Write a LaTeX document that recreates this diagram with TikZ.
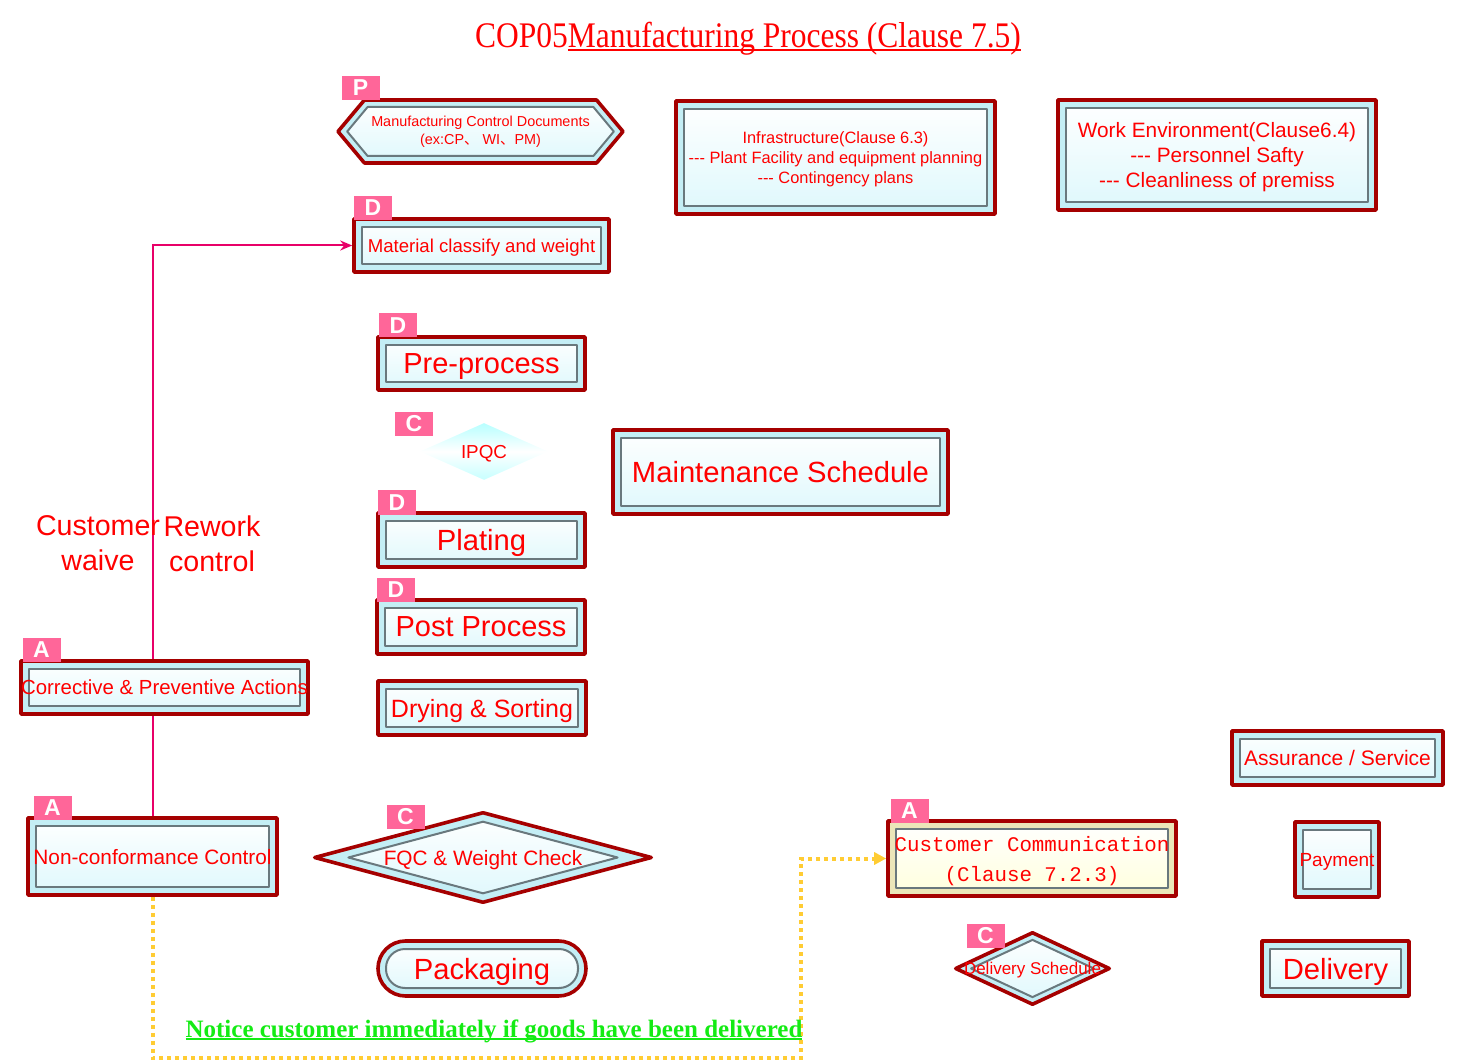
\documentclass[tikz,border=0pt]{standalone}
\usepackage{fontspec}
\setmainfont{Liberation Sans}
\newfontfamily\ttlfont{Liberation Serif}
\newfontfamily\ccfont{Liberation Mono}
\newfontfamily\cjkfont{Noto Sans CJK SC}
\usepackage{graphicx}
\usetikzlibrary{shapes.geometric,shapes.symbols,shapes.misc,arrows.meta,calc,backgrounds}
\definecolor{boxred}{RGB}{165,0,0}
\definecolor{txtred}{RGB}{255,0,0}
\definecolor{bandcyan}{RGB}{196,238,245}
\definecolor{innercyan}{RGB}{222,248,252}
\definecolor{rimgray}{RGB}{105,120,125}
\definecolor{tagpink}{RGB}{255,102,153}
\definecolor{linkpink}{RGB}{232,0,104}
\definecolor{dotgold}{RGB}{255,204,51}
\definecolor{noticegreen}{RGB}{20,235,20}
\definecolor{bandbeige}{RGB}{235,230,185}
\definecolor{innerbeige}{RGB}{255,255,220}
\newcommand\ulbox[2]{\leavevmode\setbox0\hbox{#2}\rlap{\rule[-#1]{\wd0}{0.8pt}}\box0}
\newcommand\dashes{-{}-{}-}
\tikzset{
	procbox/.style={draw=boxred, line width=1.8pt, fill=bandcyan, inner sep=0pt, text=txtred, text depth=0pt,
		path picture={\shadedraw[top color=white, bottom color=#1, draw=rimgray, line width=1pt]
			([shift={(4pt,-4pt)}]path picture bounding box.north west) rectangle
			([shift={(-4pt,4pt)}]path picture bounding box.south east);}},
	procbox/.default=innercyan,
	decision/.style={diamond, draw=boxred, line width=1.8pt, fill=bandcyan, inner sep=0pt, text=txtred, text depth=0pt,
		path picture={\shadedraw[top color=white, bottom color=innercyan, draw=rimgray, line width=1pt]
			($(path picture bounding box.center)!0.8!(path picture bounding box.north)$) --
			($(path picture bounding box.center)!0.8!(path picture bounding box.east)$) --
			($(path picture bounding box.center)!0.8!(path picture bounding box.south)$) --
			($(path picture bounding box.center)!0.8!(path picture bounding box.west)$) -- cycle;}},
	docshape/.style={signal, signal to=west and east, signal pointer angle=100, draw=boxred, line width=1.8pt,
		fill=bandcyan, inner sep=0pt, text=txtred,
		path picture={\shadedraw[top color=white, bottom color=innercyan, draw=rimgray, line width=1pt]
			([xshift=4.6pt]path picture bounding box.west) --
			([shift={(14.8pt,-3.5pt)}]path picture bounding box.north west) --
			([shift={(-14.8pt,-3.5pt)}]path picture bounding box.north east) --
			([xshift=-4.6pt]path picture bounding box.east) --
			([shift={(-14.8pt,3.5pt)}]path picture bounding box.south east) --
			([shift={(14.8pt,3.5pt)}]path picture bounding box.south west) -- cycle;}},
	tag/.style={fill=tagpink, text=white, font=\bfseries\fontsize{11.5}{11.5}\selectfont,
		minimum width=19pt, minimum height=12pt, inner sep=0pt},
	fs/.style={font=\fontsize{#1}{#1}\selectfont}
}
\pgfdeclarelayer{back}
\pgfsetlayers{back,main}
\begin{document}
\begin{tikzpicture}[x=0.5pt, y=-0.5pt, line join=round]
	\useasboundingbox (0,0) rectangle (1458,1064);
	% title
	\node[text=txtred] (title) at (748,39) {\ttlfont\fontsize{18}{18}\selectfont\scalebox{0.875}[1]{COP05\ulbox{1.6pt}{Manufacturing Process (Clause 7.5)}}};
	% upper row
	\node[docshape, minimum width=142.5pt, minimum height=31.5pt, font=\fontsize{7.2}{9}\selectfont] (mcd) at (480.5,131.5)
		{\makebox[0pt]{\begin{tabular}{@{}c@{}}Manufacturing Control Documents\\(ex:CP{\cjkfont 、} WI{\cjkfont 、}PM)\end{tabular}}};
	\node[procbox, minimum width=159.5pt, minimum height=56.5pt, align=center, font=\fontsize{8.2}{10}\selectfont] (infra) at (835.5,157.5)
		{Infrastructure(Clause 6.3)\\\dashes{} Plant Facility and equipment planning\\\dashes{} Contingency plans};
	\node[procbox, minimum width=159pt, minimum height=55pt, align=center, font=\fontsize{10.4}{12.5}\selectfont] (workenv) at (1217,155)
		{Work Environment(Clause6.4)\\\dashes{} Personnel Safty\\\dashes{} Cleanliness of premiss};
	% main flow
	\node[procbox, minimum width=127.5pt, minimum height=26.5pt, fs=9.3] (material) at (481.5,245.5) {Material classify and weight};
	\node[procbox, minimum width=103.5pt, minimum height=26.5pt, fs=14.5] (pre) at (481.5,363.5) {Pre-process};
	\node[diamond, minimum width=64pt, minimum height=28.5pt, inner sep=0pt, text=txtred, text depth=0pt, fs=9.4,
		top color=cyan!28, bottom color=cyan!22, middle color=white] (ipqc) at (484,451.5) {\makebox[0pt]{IPQC}};
	\node[procbox, minimum width=167.5pt, minimum height=42pt, fs=14.6] (maint) at (780.5,472) {Maintenance Schedule};
	\node[procbox, minimum width=103.5pt, minimum height=27pt, fs=14.6] (plating) at (481.5,540) {Plating};
	\node[procbox, minimum width=104pt, minimum height=27pt, fs=14.5] (post) at (481,627) {Post Process};
	\node[procbox, minimum width=104pt, minimum height=27pt, fs=12.5] (drying) at (482,708) {Drying \& Sorting};
	\node[decision, minimum width=169pt, minimum height=45.5pt, fs=10.4] (fqc) at (483,857.5) {\makebox[0pt]{FQC \& Weight Check}};
	\node[rounded rectangle, draw=boxred, line width=1.8pt, fill=bandcyan, inner sep=0pt, text=txtred, text depth=0pt,
		minimum width=104pt, minimum height=27.5pt, fs=14.6,
		path picture={\shadedraw[top color=white, bottom color=innercyan, draw=rimgray, line width=1pt, rounded corners=9.5pt]
			([shift={(4pt,-4pt)}]path picture bounding box.north west) rectangle
			([shift={(-4pt,4pt)}]path picture bounding box.south east);}] (pack) at (482,968.5) {Packaging};
	% left side
	\node[procbox, minimum width=143.5pt, minimum height=26.5pt, fs=10.2] (capa) at (164.5,687.5) {\makebox[0pt]{Corrective \& Preventive Actions}};
	\node[procbox, minimum width=124.5pt, minimum height=38.5pt, fs=10.4] (ncc) at (152.5,856.5) {\makebox[0pt]{Non-conformance Control}};
	\node[text=txtred, align=center, font=\fontsize{14.3}{17.5}\selectfont] (waive) at (98,543.5) {Customer\\waive};
	\node[text=txtred, align=center, font=\fontsize{14.3}{17.5}\selectfont] (rework) at (212,543.5) {Rework\\control};
	% right side
	\node[procbox=innerbeige, fill=bandbeige, minimum width=144pt, minimum height=37.5pt, align=center,
		font=\ccfont\fontsize{10.4}{15}\selectfont] (custcomm) at (1032,858.5) {Customer Communication\\(Clause 7.2.3)};
	\node[decision, minimum width=77.5pt, minimum height=36.5pt, fs=8.5] (delsched) at (1032.5,968.5) {\makebox[0pt]{Delivery Schedule}};
	\node[procbox, minimum width=105.5pt, minimum height=27pt, fs=10.5] (assure) at (1337.5,758) {Assurance / Service};
	\node[procbox, minimum width=42pt, minimum height=37.5pt, fs=9.5] (payment) at (1337,859.5) {\makebox[0pt]{Payment}};
	\node[procbox, minimum width=73.5pt, minimum height=27.5pt, fs=14.6] (delivery) at (1335.5,968.5) {Delivery};
	% PDCA tags
	\node[tag] (tagP) at (360.5,88) {P};
	\node[tag] (tagD1) at (373,208) {D};
	\node[tag] (tagD2) at (398,325.5) {D};
	\node[tag] (tagC1) at (414,424) {C};
	\node[tag] (tagD3) at (397,502.5) {D};
	\node[tag] (tagD4) at (396,590) {D};
	\node[tag] (tagA1) at (41.5,649.5) {A};
	\node[tag] (tagA2) at (52.5,807.5) {A};
	\node[tag] (tagC2) at (405.5,816.5) {C};
	\node[tag] (tagA3) at (909.5,811) {A};
	\node[tag] (tagC3) at (985.5,936) {C};
	% notice
	\node[anchor=base, text=noticegreen, font=\ttlfont\bfseries\fontsize{12.5}{14}\selectfont] (notice) at (494,1037)
		{\ulbox{1.4pt}{Notice customer immediately if goods have been delivered}};
	% connectors
	\coordinate (turn) at (801,1058);
	\begin{pgfonlayer}{back}
		\draw[linkpink, line width=1pt, -{Stealth[length=6pt,width=5pt]}] (ncc.north) |- (material.west);
		\draw[dotgold, line width=2pt, dash pattern=on 2pt off 2pt, -{Triangle[length=6pt,width=6pt]}] (ncc.south) |- (turn) |- (custcomm.west);
	\end{pgfonlayer}
\end{tikzpicture}
\end{document}
